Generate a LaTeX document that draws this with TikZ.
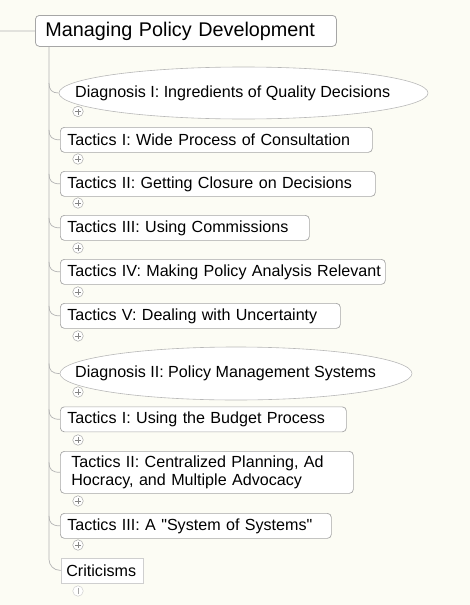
\documentclass[tikz,border=0pt]{standalone}
\usepackage{fontspec}
\setmainfont{Liberation Sans}
\usetikzlibrary{shapes.geometric}
\definecolor{bg}{HTML}{FCFCF4}
\definecolor{bord}{HTML}{A6A6A6}
\definecolor{lbord}{HTML}{CFCFCF}
\definecolor{conn}{HTML}{B4B4B4}
\tikzset{
  rootbox/.style={draw=bord, fill=white, rounded corners=4pt, line width=0.8pt,
    anchor=north west, inner xsep=10pt, inner ysep=0pt, minimum height=31pt,
    font=\fontsize{19.8}{24}\selectfont, align=left},
  tbox/.style={draw=bord, fill=white, rounded corners=4pt, line width=0.7pt,
    anchor=north west, inner xsep=7pt, inner ysep=0pt, minimum height=25pt,
    font=\fontsize{16.1}{18}\selectfont, align=left},
  ellbox/.style={draw=bord!80, fill=white, ellipse, line width=0.6pt, inner sep=0pt},
  elltext/.style={anchor=west, inner sep=0pt, font=\fontsize{16.1}{18}\selectfont},
  pm/.style={circle, draw=bord, fill=white, line width=0.5pt, minimum size=10.5pt, inner sep=0pt,
    path picture={\draw[bord!80!black, line width=0.6pt]
      ([xshift=-3pt]path picture bounding box.center) -- ([xshift=3pt]path picture bounding box.center)
      ([yshift=-3pt]path picture bounding box.center) -- ([yshift=3pt]path picture bounding box.center);}},
  pmv/.style={circle, draw=lbord, fill=white, line width=0.5pt, minimum size=10.5pt, inner sep=0pt,
    path picture={\draw[bord, line width=0.6pt]
      ([yshift=-3pt]path picture bounding box.center) -- ([yshift=3pt]path picture bounding box.center);}},
  cline/.style={draw=conn, line width=0.7pt},
}
\begin{document}
\begin{tikzpicture}[x=1pt, y=-1pt]
\fill[bg] (0,0) rectangle (470,605);
\useasboundingbox (0,0) rectangle (470,605);

% root
\node[rootbox, minimum width=301pt, text width=281pt] (root) at (35,15) {\mbox{Managing Policy Development}};
\coordinate (lend) at (0,31);
\coordinate (trunk) at (49,46.5);

% Diagnosis I
\node[ellbox, minimum width=369pt, minimum height=52pt] (d1) at (243.5,93) {};
\node[elltext] (d1t) at (75,93) {Diagnosis I: Ingredients of Quality Decisions};
\node[pm] (p0) at (78,111.5) {};

% Tactics
\node[tbox, minimum width=312pt, text width=298pt] (t1) at (60,127) {\mbox{Tactics I: Wide Process of Consultation}};
\node[pm] (p1) at (78,159) {};
\node[tbox, minimum width=315pt, text width=301pt] (t2) at (60,171) {\mbox{Tactics II: Getting Closure on Decisions}};
\node[pm] (p2) at (78,203) {};
\node[tbox, minimum width=249pt, text width=235pt] (t3) at (60,215) {\mbox{Tactics III: Using Commissions}};
\node[pm] (p3) at (78,248) {};
\node[tbox, minimum width=325pt, text width=311pt] (t4) at (60,259) {\mbox{Tactics IV: Making Policy Analysis Relevant}};
\node[pm] (p4) at (78,292) {};
\node[tbox, minimum width=280pt, text width=266pt] (t5) at (60,303) {\mbox{Tactics V: Dealing with Uncertainty}};
\node[pm] (p5) at (78,336) {};

% Diagnosis II
\node[ellbox, minimum width=352pt, minimum height=53pt] (d2) at (236,373.5) {};
\node[elltext] (d2t) at (75,373.5) {Diagnosis II: Policy Management Systems};
\node[pm] (p6) at (78,392) {};

\node[tbox, minimum width=286pt, text width=272pt] (t6) at (60,406.5) {\mbox{Tactics I: Using the Budget Process}};
\node[pm] (p7) at (78,440) {};
\node[tbox, minimum width=293pt, text width=271pt, inner xsep=11pt, minimum height=42pt] (t7) at (60,451)
  {Tactics II: Centralized Planning, Ad\\Hocracy, and Multiple Advocacy};
\node[pm] (p8) at (78,501) {};
\node[tbox, minimum width=271pt, text width=257pt] (t8) at (60,513) {\mbox{Tactics III: A \textquotedbl System of Systems\textquotedbl}};
\node[pm] (p9) at (78,545) {};

\node[tbox, draw=lbord, rounded corners=0pt, minimum width=82pt, text width=72pt, inner xsep=5pt] (crit) at (61,557.5) {Criticisms};
\node[pmv] (p10) at (78,591) {};

% connectors
\draw[cline] (lend) -- (root.west);
\draw[cline, rounded corners=11pt] (trunk) |- (crit.west);
\foreach \n in {d1,t1,t2,t3,t4,t5,d2,t6,t7,t8}{
  \draw[cline] ([yshift=10pt]trunk |- \n.west) .. controls ([yshift=3pt]trunk |- \n.west) and ([xshift=3pt]trunk |- \n.west) .. (\n.west);
}
\end{tikzpicture}
\end{document}
